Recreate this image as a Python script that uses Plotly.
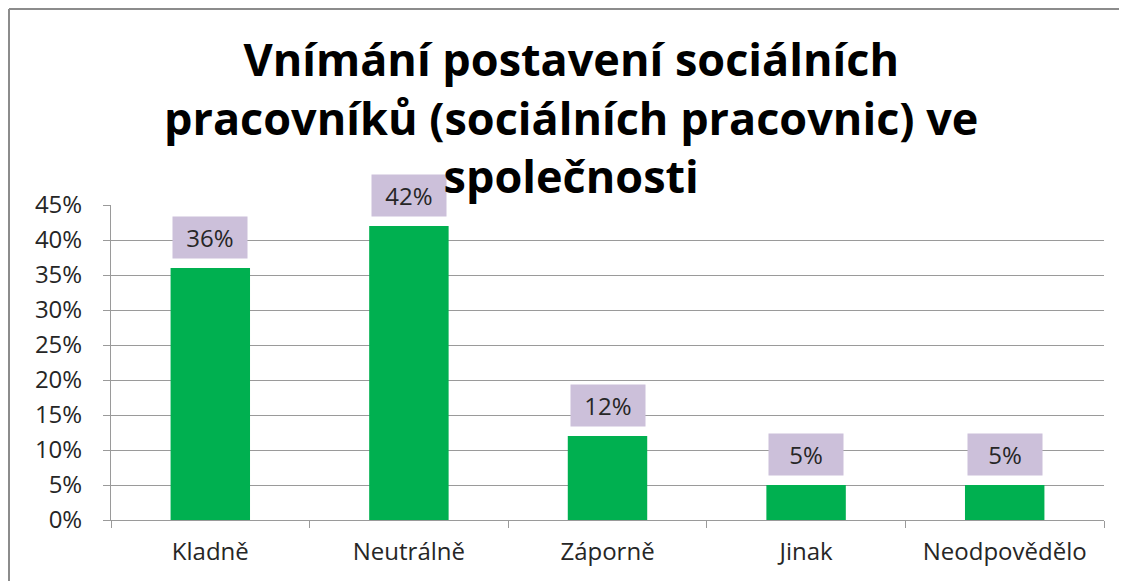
import plotly.graph_objects as go

categories = ["Kladně", "Neutrálně", "Záporně", "Jinak", "Neodpovědělo"]
values = [0.36, 0.42, 0.12, 0.05, 0.05]
labels = ["36%", "42%", "12%", "5%", "5%"]
y_ticks = [0, 0.05, 0.10, 0.15, 0.20, 0.25, 0.30, 0.35, 0.40, 0.45]
y_ticktext = ["0%", "5%", "10%", "15%", "20%", "25%", "30%", "35%", "40%", "45%"]
title_text = "Vnímání postavení sociálních<br>pracovníků (sociálních pracovnic) ve<br>společnosti"

# page body has an 8px margin; figure is sized to fit the window
W, H = 1119, 573
L, R, T, B = 103, 23, 197, 61
pw = W - L - R
ph = H - T - B

TXT = "#262626"
FONT = "Open Sans"

fig = go.Figure()
fig.add_trace(go.Bar(
    x=categories, y=values, marker=dict(color="#00B050", line=dict(width=0)),
    width=0.40, hoverinfo="skip",
))

for c, v, t in zip(categories, values, labels):
    fig.add_annotation(
        x=c, y=v, text=t, showarrow=False, yanchor="bottom", yshift=9,
        bgcolor="#CCC0DA", borderpad=0, width=74, height=41,
        font=dict(family=FONT, size=24, color=TXT),
    )

# title
fig.add_annotation(
    text=title_text, xref="paper", yref="paper",
    x=(563 - L) / pw, y=(H - B - 18) / ph, xanchor="center", yanchor="top",
    showarrow=False, align="center",
    font=dict(family=FONT, size=45, color="black", weight="bold"),
)

fig.update_layout(
    width=W, height=H,
    margin=dict(l=L, r=R, t=T, b=B),
    paper_bgcolor="white", plot_bgcolor="white",
    showlegend=False,
)

fig.update_yaxes(
    range=[0, 0.45], tickvals=y_ticks, ticktext=y_ticktext,
    showgrid=True, gridcolor="#9A9A9A", gridwidth=1,
    showline=True, linecolor="#9A9A9A", linewidth=1,
    ticks="outside", ticklen=7, tickcolor="#9A9A9A",
    ticklabelstandoff=16,
    tickfont=dict(family=FONT, size=24, color=TXT),
    zeroline=False,
)
fig.update_xaxes(
    showline=True, linecolor="#9A9A9A", linewidth=1,
    ticks="outside", ticklen=7, tickcolor="#9A9A9A", tickson="boundaries",
    ticklabelstandoff=10,
    tickfont=dict(family=FONT, size=24, color=TXT),
)

# outer chart border (left and top edges)
fig.add_shape(type="line", xref="paper", yref="paper",
              x0=(1 - L) / pw, x1=(1 - L) / pw, y0=(H - B - 1) / ph, y1=(H - B - H) / ph,
              line=dict(color="#8C8C8C", width=2))
fig.add_shape(type="line", xref="paper", yref="paper",
              x0=(1 - L) / pw, x1=(W - L) / pw, y0=(H - B - 1) / ph, y1=(H - B - 1) / ph,
              line=dict(color="#8C8C8C", width=2))

fig.write_html("out.html")
